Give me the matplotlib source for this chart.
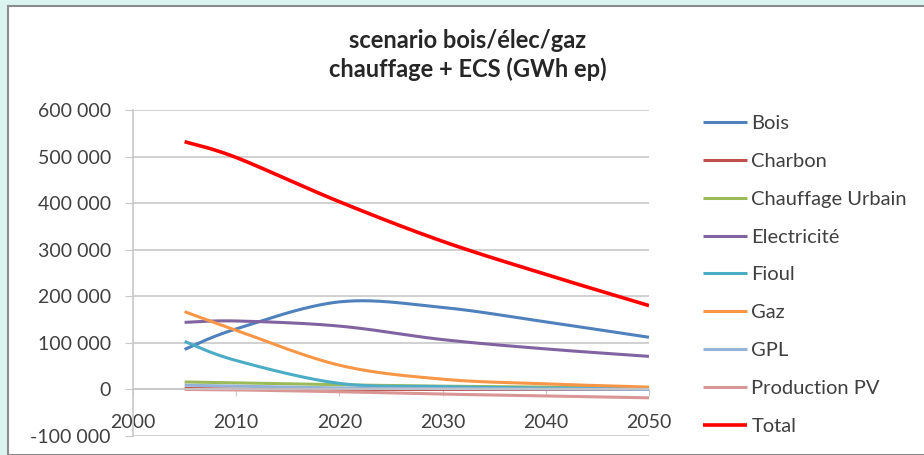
import matplotlib.pyplot as plt
from matplotlib.patches import Rectangle
from matplotlib.ticker import FuncFormatter
import numpy as np

plt.rcParams['font.family'] = ['Lato', 'DejaVu Sans']

# data (GWh ep)
years = [2005, 2010, 2020, 2030, 2040, 2050]
series_names = ["Bois", "Charbon", "Chauffage Urbain", "Electricité", "Fioul",
                "Gaz", "GPL", "Production PV", "Total"]
bois = [86000, 130000, 188000, 176000, 145000, 112000]
charbon = [2000, 500, 0, 0, 0, 0]
chauffage_urbain = [16000, 14000, 10000, 7000, 5000, 3000]
electricite = [144000, 147000, 136000, 107000, 87000, 71000]
fioul = [103000, 62000, 13000, 6000, 3000, 1000]
gaz = [167000, 127000, 52000, 22000, 12000, 5000]
gpl = [9000, 7000, 3000, 2000, 1000, 0]
production_pv = [0, -1000, -5000, -10000, -14000, -18000]
total = [532000, 498000, 403000, 318000, 247000, 180000]

colors = ["#4F81BD", "#C0504D", "#9BBB59", "#8064A2", "#4BACC6",
          "#F79646", "#95B3D7", "#D99694", "#FF0000"]


def smooth(xs, ys, n=40):
    # excel style smoothed line (catmull-rom through the points)
    p = np.column_stack([xs, ys]).astype(float)
    p = np.vstack([p[0], p, p[-1]])
    out = []
    t = np.linspace(0, 1, n)[:, None]
    for i in range(1, len(p) - 2):
        p0, p1, p2, p3 = p[i - 1], p[i], p[i + 1], p[i + 2]
        c1 = p1 + (p2 - p0) / 6
        c2 = p2 - (p3 - p1) / 6
        seg = ((1 - t) ** 3) * p1 + 3 * ((1 - t) ** 2) * t * c1 + 3 * (1 - t) * t ** 2 * c2 + t ** 3 * p2
        out.append(seg if i == 1 else seg[1:])
    out = np.vstack(out)
    return out[:, 0], out[:, 1]


fig = plt.figure(figsize=(9.24, 4.55), dpi=100)
fig.patch.set_facecolor("#DCF4F0")
fig.patches.append(Rectangle((8 / 924, 0), 1, 1 - 6 / 455, transform=fig.transFigure,
                             facecolor="white", edgecolor="#8C8C8C", linewidth=1.5, zorder=-1))

ax = fig.add_axes([133 / 924, 1 - 436 / 455, (649 - 133) / 924, (436 - 110) / 455])
ax.set_facecolor("none")
ax.set_zorder(2)

all_series = [bois, charbon, chauffage_urbain, electricite, fioul, gaz, gpl, production_pv, total]
for name, vals, c in zip(series_names, all_series, colors):
    sx, sy = smooth(years, vals)
    lw = 2.6 if name == "Total" else 2.2
    ax.plot(sx, sy, color=c, linewidth=lw, label=name, solid_capstyle="butt")

ax.set_xlim(2000, 2050)
ax.set_ylim(-100000, 600000)
ax.set_xticks(range(2000, 2051, 10))
ax.set_yticks(range(-100000, 600001, 100000))
ax.yaxis.set_major_formatter(FuncFormatter(lambda v, pos: "{:,}".format(int(v)).replace(",", " ")))
ax.grid(axis="y", color="#C8C8C8", linewidth=1.2)
ax.set_axisbelow(True)

for s in ["top", "right"]:
    ax.spines[s].set_visible(False)
ax.spines["left"].set_color("#C8C8C8")
ax.spines["left"].set_linewidth(1.2)
ax.spines["bottom"].set_position(("data", 0))
ax.spines["bottom"].set_color("#C8C8C8")
ax.spines["bottom"].set_linewidth(1.2)
ax.tick_params(axis="y", length=6, color="#C8C8C8", labelsize=14, labelcolor="#404040", pad=10)
ax.tick_params(axis="x", length=5, color="#C8C8C8", labelsize=14, labelcolor="#404040", pad=13)

fig.text(468 / 924, 1 - 55 / 455, "scenario bois/élec/gaz\nchauffage + ECS (GWh ep)",
         ha="center", va="center", fontsize=17, fontweight="bold", color="#262626",
         linespacing=1.25)

fig.legend(loc="upper left", bbox_to_anchor=(703 / 924, 1 - 115 / 455), frameon=False,
           fontsize=14.5, handlelength=2.2, handletextpad=0.2, labelspacing=1.03,
           borderpad=0, borderaxespad=0, labelcolor="#404040")

fig.savefig("out.png", dpi=100, facecolor=fig.get_facecolor())
